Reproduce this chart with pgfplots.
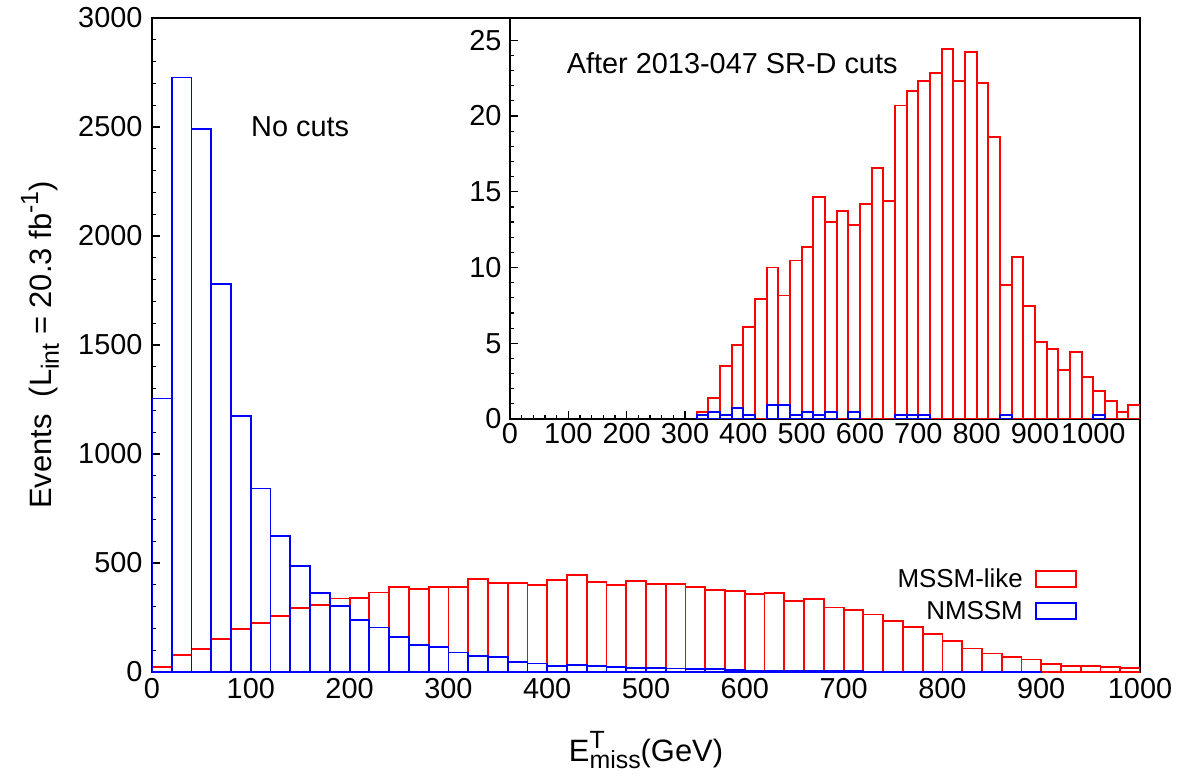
\documentclass[border=0pt]{standalone}
\usepackage{fontspec}
\setmainfont{Liberation Sans}
\usepackage{amsmath}
\usepackage{pgfplots}
\pgfplotsset{compat=1.18}
\newcommand{\sbs}[1]{\raisebox{-0.22em}{\fontsize{25}{30}\selectfont #1}}
\newcommand{\sps}[1]{\raisebox{0.45em}{\fontsize{25}{30}\selectfont #1}}
\begin{document}
\begin{tikzpicture}
\useasboundingbox (-152bp,-104bp) rectangle (1028bp,672bp);
\begin{axis}[name=main, at={(0,0)}, anchor=south west, scale only axis,
  width=988bp, height=654bp,
  xmin=0, xmax=1000, ymin=0, ymax=3000,
  xtick={0,100,...,1000}, ytick={0,500,...,3000}, minor y tick num=4,
  x tick style={draw=none}, ytick pos=left,
  major tick length=8bp, minor tick length=4bp,
  axis line style={line width=1.6bp},
  tick style={line width=1.2bp, black},
  scaled ticks=false,
  /pgf/number format/1000 sep={},
  /pgf/number format/assume math mode=true,
  tick label style={font=\fontsize{29}{34}\selectfont},
  yticklabel style={xshift=-6bp},
  xticklabel style={yshift=-3bp},
  xlabel={E\rlap{\sps{T}}\sbs{miss}(GeV)},
  ylabel={Events\ \ (L\sbs{int} = 20.3 fb\sps{-1})},
  label style={font=\fontsize{31}{36}\selectfont},
  xlabel style={at={(axis description cs:0.5,-0.1376)}, anchor=base},
  ylabel style={at={(axis description cs:-0.1134,0.5)}, anchor=center},
  legend style={draw=none, fill=none, font=\fontsize{26}{30}\selectfont,
    at={(rel axis cs:0.936,0.161)}, anchor=north east, inner sep=0pt, row sep=8bp,
    /tikz/every odd column/.append style={column sep=10bp}},
  legend cell align=right, legend plot pos=right,
]
\addplot[ybar, bar width=20, bar shift=0pt, draw=red, fill=none, line width=1.8bp,
  legend image code/.code={\draw[red,line width=1.8bp] (0bp,-8bp) rectangle (40bp,8bp);}]
coordinates {
(10,24) (30,78) (50,104) (70,151) (90,197) (110,226) (130,258) (150,292) (170,309) (190,337)
(210,341) (230,365) (250,390) (270,382) (290,390) (310,390) (330,425) (350,408) (370,408) (390,400)
(410,422) (430,446) (450,413) (470,400) (490,419) (510,405) (530,405) (550,391) (570,376) (590,371)
(610,356) (630,364) (650,325) (670,336) (690,296) (710,285) (730,264) (750,233) (770,207) (790,175)
(810,141) (830,108) (850,85) (870,68) (890,57) (910,35) (930,29) (950,26) (970,22) (990,20)
};
\addlegendentry{MSSM-like}
\addplot[ybar, bar width=20, bar shift=0pt, draw=blue, fill=none, line width=1.8bp,
  legend image code/.code={\draw[blue,line width=1.8bp] (0bp,-8bp) rectangle (40bp,8bp);}]
coordinates {
(10,1255) (30,2727) (50,2491) (70,1778) (90,1173) (110,842) (130,624) (150,486) (170,364) (190,304)
(210,238) (230,204) (250,161) (270,123) (290,115) (310,89) (330,75) (350,68) (370,45) (390,39)
(410,29) (430,31) (450,26) (470,24) (490,20) (510,17) (530,16) (550,14) (570,12) (590,8)
(610,7) (630,6) (650,5) (670,4) (690,3) (710,3) (730,2) (750,2) (770,2) (790,1)
(810,1) (830,1) (850,1) (870,1) (890,1)
};
\addlegendentry{NMSSM}
\node[font=\fontsize{29}{34}\selectfont, inner sep=0pt] at (axis cs:150,2503) {No cuts};
\end{axis}
\begin{axis}[at={(main.north east)}, anchor=north east, scale only axis,
  width=630bp, height=401bp,
  xmin=0, xmax=1080, ymin=0, ymax=26.47,
  xtick={0,100,...,1000}, ytick={0,5,...,25},
  minor x tick num=4, minor y tick num=4,
  xtick pos=left, ytick pos=left,
  major tick length=8bp, minor tick length=4bp,
  axis line style={line width=1.6bp},
  tick style={line width=1.2bp, black},
  axis background/.style={fill=white},
  scaled ticks=false,
  /pgf/number format/1000 sep={},
  /pgf/number format/assume math mode=true,
  tick label style={font=\fontsize{29}{34}\selectfont},
  yticklabel style={xshift=-5bp},
  xticklabel style={yshift=-1bp},
]
\addplot[ybar, bar width=20, bar shift=0pt, draw=red, fill=none, line width=1.8bp]
coordinates {
(330,0.46) (350,1.38) (370,3.52) (390,4.88) (410,6.07) (430,7.91) (450,10.0) (470,8.15) (490,10.46)
(510,11.37) (530,14.68) (550,13.03) (570,13.73) (590,12.81) (610,14.21) (630,16.55) (650,14.41)
(670,20.70) (690,21.65) (710,22.33) (730,22.82) (750,24.42) (770,22.33) (790,24.20) (810,22.16)
(830,18.61) (850,8.84) (870,10.69) (890,7.44) (910,5.10) (930,4.64) (950,3.23) (970,4.40)
(990,2.77) (1010,1.85) (1030,1.19) (1050,0.44) (1070,0.92)
};
\addplot[ybar, bar width=20, bar shift=0pt, draw=blue, fill=none, line width=1.8bp]
coordinates {
(330,0.24) (350,0.47) (370,0.24) (390,0.71) (410,0.24) (450,0.95) (470,0.95) (490,0.24)
(510,0.47) (530,0.24) (550,0.47) (590,0.47) (670,0.24) (690,0.24) (710,0.24) (850,0.24) (1010,0.24)
};
\node[font=\fontsize{29}{34}\selectfont, inner sep=0pt, anchor=west] at (axis cs:97,23.5) {After 2013-047 SR-D cuts};
\end{axis}
\end{tikzpicture}
\end{document}
